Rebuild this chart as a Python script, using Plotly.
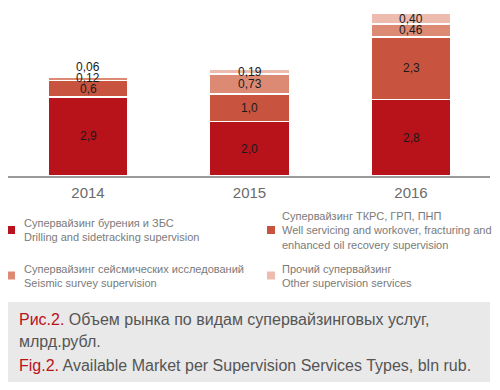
import plotly.graph_objects as go

years = [2014, 2015, 2016]
year_labels = ["2014", "2015", "2016"]
drilling = [2.9, 2.0, 2.8]
well_servicing = [0.6, 1.0, 2.3]
seismic = [0.12, 0.73, 0.46]
other = [0.06, 0.19, 0.40]
value_labels = [
    ["2,9", "2,0", "2,8"],
    ["0,6", "1,0", "2,3"],
    ["0,12", "0,73", "0,46"],
    ["0,06", "0,19", "0,40"],
]
series_names = [
    "Супервайзинг бурения и ЗБС<br>Drilling and sidetracking supervision",
    "Супервайзинг ТКРС, ГРП, ПНП<br>Well servicing and workover, fracturing and<br>enhanced oil recovery supervision",
    "Супервайзинг сейсмических исследований<br>Seismic survey supervision",
    "Прочий супервайзинг<br>Other supervision services",
]
colors = ["#B8121B", "#C85440", "#DC8A74", "#EEBCAE"]
series = [drilling, well_servicing, seismic, other]

OFF = 8  # page body margin
W, H = 500 - OFF, 390 - OFF
ML, MR, MT, MB = 0, 10, 0, 214
PW, PH = W - ML - MR, H - MT - MB
FONT = "Liberation Sans, Arial, sans-serif"

def pxx(x):
    return (x - OFF - ML) / PW

def pxy(y):
    return (H - MB - (y - OFF)) / PH

fig = go.Figure()
for vals, name, col in zip(series, series_names, colors):
    fig.add_trace(go.Bar(
        x=years, y=vals, name=name, width=0.495,
        marker=dict(color=col, line=dict(color="white", width=1.5)),
        showlegend=False, hoverinfo="skip",
    ))

# value labels
annotations = []
label_shift = [[0, 0, 0], [0, 0, 0], [1, 0, 0], [9, 0, 0]]
base = [0.0, 0.0, 0.0]
for si, vals in enumerate(series):
    for i, v in enumerate(vals):
        annotations.append(dict(
            x=years[i], y=base[i] + v / 2, xref="x", yref="y",
            text=value_labels[si][i], showarrow=False,
            yshift=label_shift[si][i],
            font=dict(family=FONT, size=12, color="#1a1a1a"),
        ))
        base[i] += v

# legend (two columns)
legend_pos = [(7, 22, 230), (267, 280, 230), (7, 22, 275.5), (267, 280, 275.5)]
shapes = []
for (sx, tx, cy), name, col in zip(legend_pos, series_names, colors):
    shapes.append(dict(type="rect", xref="paper", yref="paper",
                       x0=pxx(sx), x1=pxx(sx + 8), y0=pxy(cy - 4), y1=pxy(cy + 4),
                       fillcolor=col, line=dict(width=0)))
    annotations.append(dict(
        x=pxx(tx), y=pxy(cy), xref="paper", yref="paper",
        xanchor="left", yanchor="middle", align="left",
        text=name, showarrow=False,
        font=dict(family=FONT, size=11, color="#7a7a7a"),
    ))

# caption box
shapes.append(dict(type="rect", xref="paper", yref="paper",
                   x0=pxx(6), x1=pxx(490), y0=pxy(382), y1=pxy(302),
                   fillcolor="#E9E9E9", line=dict(width=0), layer="below"))
caption_lines = [
    ("<span style='color:#B8121B'>Рис.2.</span> Объем рынка по видам супервайзинговых услуг,", 319),
    ("млрд.рубл.", 341),
    ("<span style='color:#B8121B'>Fig.2.</span> Available Market per Supervision Services Types, bln rub.", 365),
]
for txt, cy in caption_lines:
    annotations.append(dict(
        x=pxx(17), y=pxy(cy), xref="paper", yref="paper",
        xanchor="left", yanchor="middle", align="left",
        text=txt, showarrow=False,
        font=dict(family=FONT, size=16, color="#555555"),
    ))

fig.update_layout(
    width=W, height=H,
    margin=dict(l=ML, r=MR, t=MT, b=MB),
    barmode="stack",
    plot_bgcolor="white", paper_bgcolor="white",
    annotations=annotations, shapes=shapes,
    showlegend=False,
    xaxis=dict(range=[2013.5046, 2016.489], tickvals=years, ticktext=year_labels,
               showline=True, linecolor="#9a9a9a", linewidth=1.5,
               showgrid=False, zeroline=False, ticks="", ticklabelstandoff=2,
               tickfont=dict(family=FONT, size=15, color="#6b6b6b")),
    yaxis=dict(range=[0, 6.154], visible=False, showgrid=False, zeroline=False),
)

fig.write_html("out.html")
